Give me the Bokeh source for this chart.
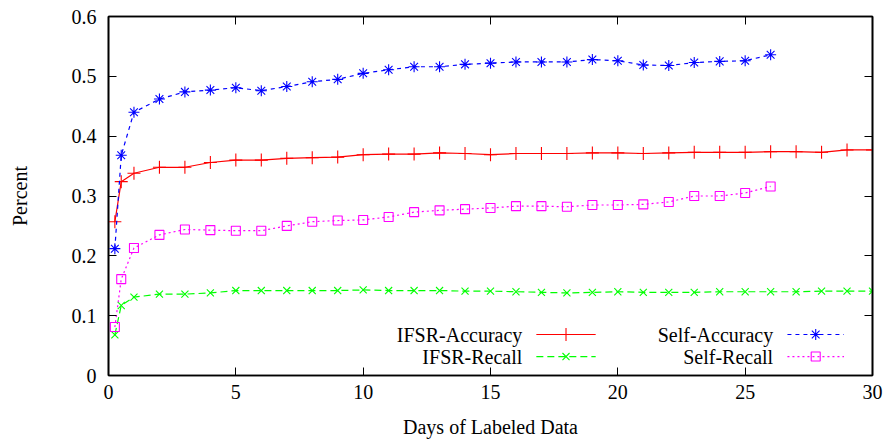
from bokeh.plotting import figure
from bokeh.models import Range1d, LinearAxis, FixedTicker
from bokeh.core.properties import value
from bokeh.embed import file_html
from bokeh.resources import INLINE

# ---- data -------------------------------------------------------------
days_long = [0.25, 0.5] + list(range(1, 31))   # 0.25 .. 30
days_short = [0.25, 0.5] + list(range(1, 27))  # 0.25 .. 26

ifsr_accuracy = [0.257, 0.324, 0.338, 0.348, 0.348, 0.356, 0.360, 0.360, 0.363,
                 0.364, 0.365, 0.369, 0.370, 0.370, 0.372, 0.371, 0.369, 0.371,
                 0.371, 0.371, 0.372, 0.372, 0.371, 0.372, 0.373, 0.373, 0.373,
                 0.374, 0.374, 0.373, 0.377, 0.377]
ifsr_recall = [0.068, 0.117, 0.131, 0.136, 0.136, 0.138, 0.142, 0.142, 0.142,
               0.142, 0.142, 0.143, 0.142, 0.142, 0.142, 0.141, 0.141, 0.140,
               0.139, 0.138, 0.139, 0.140, 0.139, 0.139, 0.139, 0.140, 0.140,
               0.140, 0.140, 0.141, 0.141, 0.141]
self_accuracy = [0.212, 0.368, 0.440, 0.462, 0.474, 0.477, 0.481, 0.476, 0.483,
                 0.491, 0.495, 0.505, 0.511, 0.516, 0.516, 0.520, 0.522, 0.524,
                 0.524, 0.524, 0.528, 0.526, 0.519, 0.518, 0.523, 0.525, 0.526,
                 0.536]
self_recall = [0.081, 0.161, 0.213, 0.235, 0.244, 0.243, 0.242, 0.242, 0.250,
               0.257, 0.259, 0.260, 0.265, 0.273, 0.276, 0.278, 0.280, 0.283,
               0.283, 0.282, 0.285, 0.285, 0.286, 0.290, 0.300, 0.300, 0.305,
               0.316]

x_ticks = [0, 5, 10, 15, 20, 25, 30]
y_ticks = [0, 0.1, 0.2, 0.3, 0.4, 0.5, 0.6]
y_tick_labels = ["0", "0.1", "0.2", "0.3", "0.4", "0.5", "0.6"]

series = [
    # label, x, y, colour, dash, marker, marker size
    ("IFSR-Accuracy", days_long, ifsr_accuracy, "#ff0000", "solid", "cross", 13),
    ("IFSR-Recall", days_long, ifsr_recall, "#00ff00", "7 4", "x", 10),
    ("Self-Accuracy", days_short, self_accuracy, "#0000ff", "4 4", "asterisk", 11),
    ("Self-Recall", days_short, self_recall, "#ff00ff", "2 3", "square", 9),
]

FONT = "Liberation Serif"

p = figure(width=884, height=440, output_backend="svg", toolbar_location=None,
           x_range=Range1d(0, 30), y_range=Range1d(0, 0.6),
           x_axis_label="Days of Labeled Data", y_axis_label="Percent",
           min_border_left=108, min_border_right=12,
           min_border_top=16, min_border_bottom=64)
p.background_fill_color = "white"
p.border_fill_color = "white"
p.grid.visible = False
p.outline_line_color = "black"
p.outline_line_width = 1.6


def style_axis(ax, ticks, show_labels):
    ax.ticker = FixedTicker(ticks=ticks)
    ax.major_tick_in = 8
    ax.major_tick_out = 0
    ax.minor_tick_line_color = None
    ax.major_tick_line_color = "black"
    ax.major_tick_line_width = 1
    ax.axis_line_color = "black"
    ax.axis_line_width = 1.6
    ax.major_label_text_font = FONT
    ax.major_label_text_font_size = "20px"
    ax.major_label_text_color = "black" if show_labels else None
    ax.axis_label_text_font = FONT
    ax.axis_label_text_font_size = "20px"
    ax.axis_label_text_font_style = "normal"
    ax.axis_label_text_color = "black"


style_axis(p.xaxis[0], x_ticks, True)
style_axis(p.yaxis[0], y_ticks, True)
p.yaxis[0].major_label_overrides = dict(zip(y_ticks, y_tick_labels))
p.xaxis[0].major_label_standoff = 9
p.xaxis[0].axis_label_standoff = 14
p.yaxis[0].major_label_standoff = 12
p.yaxis[0].axis_label_standoff = 38

# mirrored ticks on the top and right edges
top_ax = LinearAxis()
right_ax = LinearAxis()
style_axis(top_ax, x_ticks, False)
style_axis(right_ax, y_ticks, False)
top_ax.major_label_text_font_size = "0px"
right_ax.major_label_text_font_size = "0px"
p.add_layout(top_ax, "above")
p.add_layout(right_ax, "right")

for label, xs, ys, colour, dash, marker, size in series:
    p.line(xs, ys, line_color=colour, line_width=1.2, line_dash=dash)
    p.scatter(xs, ys, marker=marker, size=size, line_color=colour,
              fill_color=None, line_width=1.1)

# key: two columns, label right-aligned before a line sample
key_text_right = [16.25, 16.25, 26.1, 26.1]
key_row_y = [0.0685, 0.0317, 0.0685, 0.0317]
key_sample = [(16.8, 19.13), (16.8, 19.13), (26.66, 28.88), (26.66, 28.88)]

p.text(x=key_text_right, y=key_row_y, text=[s[0] for s in series],
       text_align="right", text_baseline="middle",
       text_font=value(FONT), text_font_size="20px", text_color="black")

for (label, xs, ys, colour, dash, marker, size), (x0, x1), ky in zip(
        series, key_sample, key_row_y):
    p.line([x0, x1], [ky, ky], line_color=colour, line_width=1.2, line_dash=dash)
    p.scatter([(x0 + x1) / 2], [ky], marker=marker, size=size,
              line_color=colour, fill_color=None, line_width=1.1)

open("out.html", "w").write(file_html(p, INLINE))
